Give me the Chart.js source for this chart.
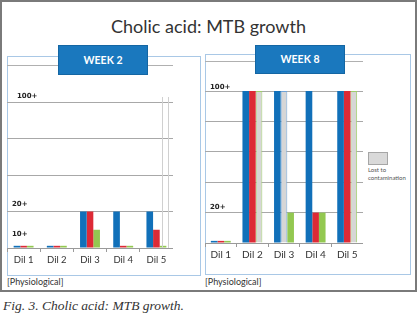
<!DOCTYPE html>
<html><head><meta charset="utf-8">
<script src="https://cdn.jsdelivr.net/npm/chart.js@4.4.1/dist/chart.umd.min.js"></script>
<style>
html,body{margin:0;padding:0;background:#fff;width:417px;height:322px;overflow:hidden;font-family:Lato,"Open Sans",sans-serif;}
.abs{position:absolute;box-sizing:border-box;}
#frame{left:0;top:0;width:417px;height:292px;border:2px solid #7a7a7a;}
#title{left:0;top:14px;width:417px;text-align:center;font-size:18px;color:#333;line-height:24px;}
.panel{border:1px solid #a9c8e6;}
.hline{height:1px;background:#b0b0b0;}
.week{background:#1a78be;border:1px solid #1466a3;color:#fff;font-weight:bold;font-size:10.5px;text-align:center;}
.phys{font-size:9px;color:#333;line-height:11px;}
#legbox{left:368px;top:152px;width:20px;height:13px;background:#d9d9d9;border:1px solid #a6a6a6;}
#legtxt{left:368px;top:166px;font-size:6px;line-height:8px;color:#555;}
#caption{left:3px;top:298px;font-family:"Liberation Serif","DejaVu Serif",serif;font-style:italic;font-size:13.5px;color:#333;white-space:nowrap;}
canvas{position:absolute;}
</style></head>
<body>
<div id="frame" class="abs"></div>
<div id="title" class="abs">Cholic acid: MTB growth</div>
<div class="abs panel" style="left:7px;top:56px;width:194px;height:220px;"></div>
<div class="abs panel" style="left:205px;top:54px;width:206px;height:221px;"></div>
<div class="abs hline" style="left:7px;top:65px;width:166px;"></div>
<div class="abs hline" style="left:205px;top:61px;width:158px;"></div>
<div class="abs week" style="left:58px;top:45px;width:90px;height:30px;line-height:28px;">WEEK 2</div>
<div class="abs week" style="left:255px;top:45px;width:90px;height:29px;line-height:27px;">WEEK 8</div>
<canvas id="c2" width="166" height="180" style="left:7px;top:88px;width:166px;height:180px;"></canvas>
<canvas id="c8" width="158" height="183" style="left:205px;top:80px;width:158px;height:183px;"></canvas>
<div class="abs phys" style="left:7px;top:276px;">[Physiological]</div>
<div class="abs phys" style="left:205px;top:276px;">[Physiological]</div>
<div id="legbox" class="abs"></div>
<div id="legtxt" class="abs">Lost to<br>contamination</div>
<div id="caption" class="abs">Fig. 3. Cholic acid: MTB growth.</div>
<script>
// ---- data ----
const categories = ['Dil 1','Dil 2','Dil 3','Dil 4','Dil 5'];
// growth level scale: trace ≈ 0.06, 10+ = 0.5, 20+ = 1, 100+ = top of axis
const week2Blue  = [0.06, 0.06, 1, 1, 1];
const week2Red   = [0.06, 0.06, 1, 0.06, 0.5];
const week2Green = [0.06, 0.06, 0.5, 0.06, 0.06];
const week2Max = 4;
const week2TickValues = [0.5, 1, 4];
const week2TickLabels = ['10+', '20+', '100+'];

const week8Blue  = [0.07, 5, 5, 5, 5];
const week8Red   = [0.07, 5, 5, 1, 5];
const week8Green = [0.07, 5, 1, 1, 5];
const week8RedLost   = [false, false, true, false, false];
const week8GreenLost = [false, true, false, false, true];
const week8Max = 5;
const week8TickValues = [1, 5];
const week8TickLabels = ['20+', '100+'];

// ---- style ----
const BLUE = '#1170b9', RED = '#dd2a36', GREEN = '#93c851', LOST = '#d6d6d6';
Chart.defaults.font.family = 'Lato, "Open Sans", sans-serif';

const yLabelPlugin = {
  id: 'yLabels',
  afterDraw(chart, args, opts) {
    const ctx = chart.ctx, y = chart.scales.y, area = chart.chartArea;
    ctx.save();
    ctx.font = 'bold 7px "DejaVu Sans", sans-serif';
    ctx.fillStyle = '#222';
    ctx.textBaseline = 'middle';
    ctx.textAlign = 'left';
    opts.values.forEach((v, i) => {
      ctx.fillText(opts.labels[i], area.left + opts.dx[i], y.getPixelForValue(v) + opts.dy[i]);
    });
    if (opts.vlines) {
      ctx.strokeStyle = '#d0d0d0'; ctx.lineWidth = 1;
      opts.vlines.forEach(off => {
        const x = Math.round(area.right - off) + 0.5;
        ctx.beginPath(); ctx.moveTo(x, area.top - 5); ctx.lineTo(x, area.bottom); ctx.stroke();
      });
    }
    ctx.restore();
  }
};

function makeChart(id, datasets, max, catPct, labelOpts, padTop, xFont) {
  return new Chart(document.getElementById(id), {
    type: 'bar',
    data: { labels: categories, datasets },
    options: {
      responsive: false, animation: false, devicePixelRatio: 1,
      layout: { padding: { top: padTop, left: 0, right: 0, bottom: 0 } },
      datasets: { bar: { barPercentage: 1, categoryPercentage: catPct } },
      plugins: { legend: { display: false }, tooltip: { enabled: false }, yLabels: labelOpts },
      scales: {
        x: {
          grid: { drawOnChartArea: false, drawTicks: true, tickLength: 4, color: '#9a9a9a' },
          border: { display: true, color: '#9a9a9a' },
          ticks: { color: '#333', font: { size: xFont }, padding: 2 },
          afterFit: s => { s.height = 20; }
        },
        y: {
          min: 0, max: max,
          ticks: { display: false, stepSize: 1 },
          grid: { color: '#a8a8a8', drawTicks: false },
          border: { display: false },
          afterFit: s => { s.width = 0; }
        }
      }
    },
    plugins: [yLabelPlugin]
  });
}

makeChart('c2', [
  { data: week2Blue, backgroundColor: BLUE },
  { data: week2Red, backgroundColor: RED },
  { data: week2Green, backgroundColor: GREEN }
], week2Max, 0.6, {
  values: week2TickValues, labels: week2TickLabels,
  dx: [5, 5, 10], dy: [4, -7, -6], vlines: [11, 5]
}, 14, 9.5);

makeChart('c8', [
  { data: week8Blue, backgroundColor: BLUE },
  { data: week8Red, backgroundColor: week8RedLost.map(l => l ? LOST : RED),
    borderColor: week8RedLost.map(l => l ? '#6fa2d6' : RED),
    borderWidth: week8RedLost.map(l => l ? 1 : 0) },
  { data: week8Green, backgroundColor: week8GreenLost.map(l => l ? LOST : GREEN),
    borderColor: week8GreenLost.map(l => l ? '#9fcf6a' : GREEN),
    borderWidth: week8GreenLost.map(l => l ? 1 : 0) }
], week8Max, 0.63, {
  values: week8TickValues, labels: week8TickLabels,
  dx: [5, 5], dy: [-5, -4]
}, 11, 10);
</script>
</body></html>
